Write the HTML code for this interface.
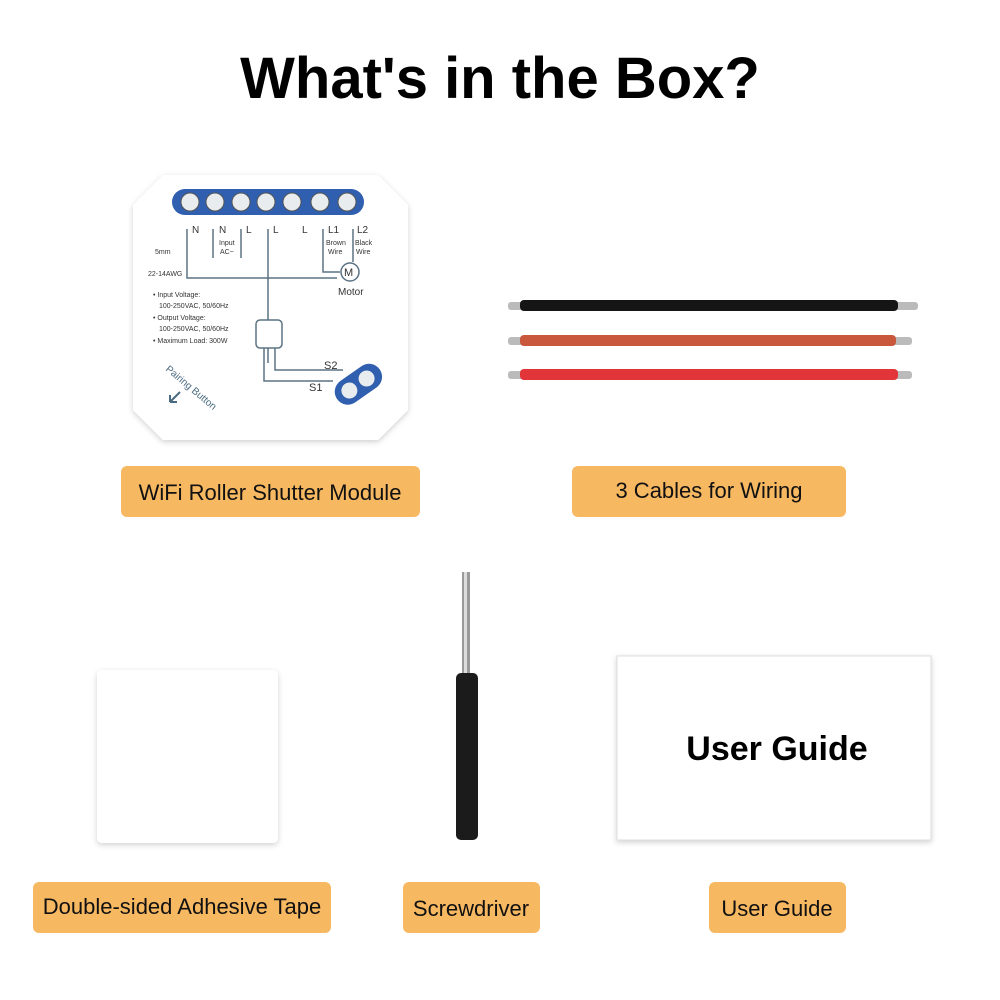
<!DOCTYPE html>
<html><head><meta charset="utf-8"><style>
html,body{margin:0;padding:0;background:#fff;}
svg{display:block;font-family:"Liberation Sans",sans-serif;}
</style></head><body>
<svg width="1000" height="1000" viewBox="0 0 1000 1000" xmlns="http://www.w3.org/2000/svg">
<defs>
<filter id="sh" x="-20%" y="-20%" width="140%" height="140%"><feDropShadow dx="0" dy="2" stdDeviation="3" flood-color="#000" flood-opacity="0.18"/></filter>
</defs>
<text x="500" y="98" text-anchor="middle" font-size="58" font-weight="bold" fill="#000">What's in the Box?</text>

<!-- module -->
<polygon points="163,175 378,175 408,205 408,410 378,440 163,440 133,410 133,205" fill="#fff" filter="url(#sh)"/>
<rect x="172" y="189" width="192" height="26" rx="13" fill="#2f5fae"/>
<g fill="#e8ecef" stroke="#555" stroke-width="1">
<circle cx="190" cy="202" r="9"/><circle cx="215" cy="202" r="9"/><circle cx="241" cy="202" r="9"/><circle cx="266" cy="202" r="9"/><circle cx="292" cy="202" r="9"/><circle cx="320" cy="202" r="9"/><circle cx="347" cy="202" r="9"/>
</g>
<g fill="none" stroke="#5b7384" stroke-width="1.5">
<path d="M187,229 V278 H337"/>
<path d="M268,229 V363"/>
<path d="M213,229 V258 M241,229 V258"/>
<path d="M323,229 V272 H340 M353,229 V262"/>
<circle cx="350" cy="272" r="9" fill="#fff"/>
<rect x="256" y="320" width="26" height="28" rx="4" fill="#fff"/>
<path d="M264,348 V381 H333 M275,348 V370 H343"/>
</g>
<g font-size="10" fill="#333">
<text x="192" y="233">N</text><text x="219" y="233">N</text><text x="246" y="233">L</text><text x="273" y="233">L</text><text x="302" y="233">L</text><text x="328" y="233">L1</text><text x="357" y="233">L2</text>
<text x="344" y="276" font-size="11">M</text>
<text x="338" y="295">Motor</text>
<text x="324" y="369" font-size="11">S2</text><text x="309" y="391" font-size="11">S1</text>
</g>
<g font-size="7" fill="#333">
<text x="219" y="245">Input</text><text x="220" y="254">AC~</text>
<text x="326" y="245">Brown</text><text x="328" y="254">Wire</text>
<text x="355" y="245">Black</text><text x="356" y="254">Wire</text>
<text x="155" y="254">5mm</text><text x="148" y="276">22-14AWG</text>
<text x="153" y="297">• Input Voltage:</text><text x="159" y="308">100-250VAC, 50/60Hz</text>
<text x="153" y="320">• Output Voltage:</text><text x="159" y="331">100-250VAC, 50/60Hz</text>
<text x="153" y="343">• Maximum Load: 300W</text>
</g>
<text x="165" y="370" font-size="10" fill="#4a6a80" transform="rotate(40 165 370)">Pairing Button</text>
<path d="M180,392 L170,402 M170,402 h7 M170,402 v-7" stroke="#4a6a80" stroke-width="2" fill="none"/>
<g transform="rotate(-35 357 384)"><rect x="332" y="372" width="52" height="26" rx="13" fill="#2f5fae"/>
<circle cx="347" cy="385" r="8" fill="#e8ecef"/><circle cx="368" cy="385" r="8" fill="#e8ecef"/></g>

<!-- cables -->
<rect x="508" y="302" width="410" height="8" rx="3" fill="#bbb"/>
<rect x="520" y="300" width="378" height="11" rx="4" fill="#151515"/>
<rect x="508" y="337" width="404" height="8" rx="3" fill="#bbb"/>
<rect x="520" y="335" width="376" height="11" rx="4" fill="#c9573b"/>
<rect x="508" y="371" width="404" height="8" rx="3" fill="#bbb"/>
<rect x="520" y="369" width="378" height="11" rx="4" fill="#e2353a"/>

<!-- labels -->
<g fill="#f7b862">
<rect x="121" y="466" width="299" height="51" rx="6"/>
<rect x="572" y="466" width="274" height="51" rx="6"/>
<rect x="33" y="882" width="298" height="51" rx="6"/>
<rect x="403" y="882" width="137" height="51" rx="6"/>
<rect x="709" y="882" width="137" height="51" rx="6"/>
</g>
<g font-size="22" fill="#111" text-anchor="middle">
<text x="270" y="500">WiFi Roller Shutter Module</text>
<text x="709" y="498">3 Cables for Wiring</text>
<text x="182" y="914">Double-sided Adhesive Tape</text>
<text x="471" y="916">Screwdriver</text>
<text x="777" y="916">User Guide</text>
</g>

<!-- tape -->
<rect x="97" y="670" width="181" height="173" rx="5" fill="#fff" filter="url(#sh)"/>

<!-- screwdriver -->
<rect x="462" y="572" width="8" height="103" fill="#9a9a9a"/>
<rect x="464" y="572" width="3" height="103" fill="#ddd"/>
<rect x="456" y="673" width="22" height="167" rx="5" fill="#1b1b1b"/>

<!-- user guide -->
<rect x="617" y="656" width="314" height="184" fill="#fff" stroke="#ddd" stroke-width="1" filter="url(#sh)"/>
<text x="777" y="760" text-anchor="middle" font-size="34" font-weight="bold" fill="#000">User Guide</text>
</svg>
</body></html>
